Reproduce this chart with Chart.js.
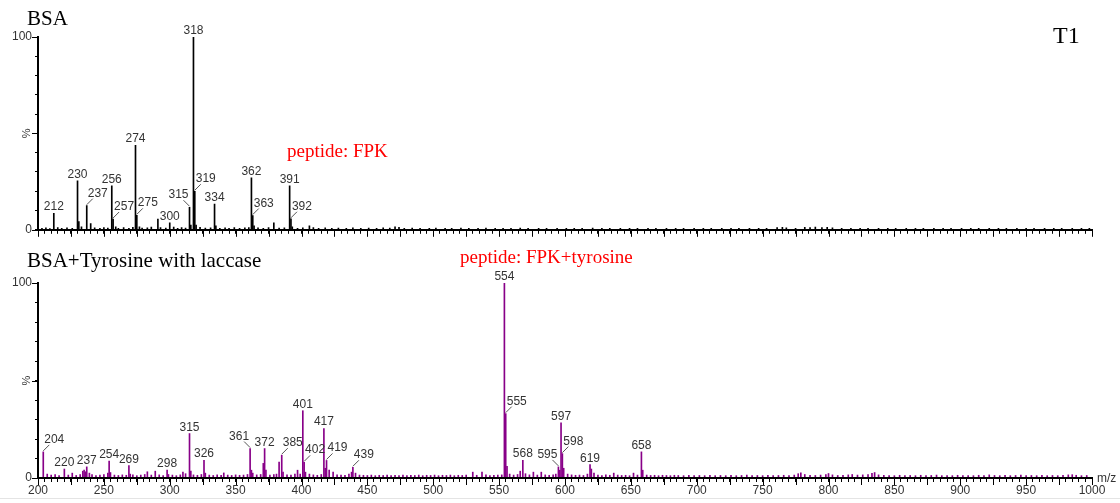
<!DOCTYPE html>
<html>
<head>
<meta charset="utf-8">
<title>BSA / BSA+Tyrosine with laccase</title>
<script src="https://cdn.jsdelivr.net/npm/chart.js@4/dist/chart.umd.min.js"></script>
<style>
  html, body { margin: 0; padding: 0; background: #fff; }
  #wrap { position: relative; width: 1120px; height: 503px; overflow: hidden; }
  canvas { position: absolute; left: 0; }
  #top { top: 0; }
  #bottom { top: 240px; }
</style>
</head>
<body>
<div id="wrap">
  <canvas id="top" width="1120" height="240"></canvas>
  <canvas id="bottom" width="1120" height="263"></canvas>
</div>
<script>
// m/z axis range and the labelled values
const mzRange = [200, 1000];
const xTickLabels = [200, 250, 300, 350, 400, 450, 500, 550, 600, 650, 700, 750, 800, 850, 900, 950, 1000];
const yTickLabels = [0, 100];

// BSA: labelled peaks [m/z, relative intensity %]
const bsaPeaks = [
  [212, 8.6], [230, 25.4], [237, 12.5], [256, 22.8], [257, 5.6], [274, 43.8], [275, 7.5],
  [300, 3.6], [315, 11.7], [318, 100], [319, 20.0], [334, 13.4], [362, 27.0], [363, 7.4],
  [391, 22.8], [392, 5.7]
];
// BSA: minor peaks and baseline
const bsaMinor = [
  [203, 0.8], [206, 1.0], [209, 0.6], [215, 1.2], [218, 0.7], [222, 1.0], [226, 0.8], [231, 4.2],
  [233, 1.5], [240, 3.2], [243, 1.0], [247, 0.8], [250, 1.2], [253, 0.9], [259, 1.5], [261, 0.8],
  [265, 1.1], [269, 0.7], [272, 1.3], [277, 1.6], [279, 0.9], [283, 1.0], [286, 1.4], [291, 5.5],
  [293, 1.2], [297, 0.9], [303, 1.4], [306, 0.8], [309, 1.1], [312, 0.9], [316, 2.5], [320, 2.4],
  [323, 1.3], [327, 0.9], [331, 1.0], [335, 2.0], [338, 0.8], [342, 1.0], [345, 0.7], [349, 1.1],
  [353, 0.8], [357, 1.0], [360, 1.2], [364, 2.0], [367, 1.0], [371, 0.8], [375, 1.2], [379, 3.6],
  [383, 0.9], [387, 1.0], [393, 1.5], [397, 0.8], [401, 1.0], [406, 2.0], [409, 1.1], [413, 0.8],
  [418, 1.0], [423, 0.7], [428, 0.9], [434, 0.8], [439, 1.0], [445, 0.7], [451, 0.9], [457, 0.8],
  [462, 1.0], [467, 0.9], [471, 1.6], [474, 1.3], [478, 0.8], [484, 0.9], [490, 0.7], [497, 0.8],
  [502, 0.9], [509, 0.7], [514, 0.8], [521, 0.9], [527, 0.7], [534, 0.8], [540, 0.9], [547, 0.7],
  [553, 0.8], [559, 0.7], [566, 0.9], [572, 0.7], [580, 0.8], [586, 0.7], [594, 0.8], [601, 0.7],
  [607, 0.8], [613, 0.7], [621, 0.9], [628, 0.7], [634, 0.8], [642, 0.7], [649, 0.8], [655, 0.7],
  [663, 0.8], [669, 0.7], [677, 0.8], [684, 0.7], [690, 0.8], [698, 0.7], [705, 0.8], [711, 0.7],
  [719, 0.8], [726, 0.7], [732, 0.8], [740, 0.7], [747, 0.8], [753, 0.7], [761, 1.2], [765, 1.3],
  [768, 1.0], [775, 0.8], [782, 1.3], [786, 1.2], [790, 1.4], [795, 1.1], [799, 1.3], [803, 1.0],
  [810, 0.8], [817, 0.7], [824, 0.8], [830, 0.7], [838, 0.8], [845, 0.7], [851, 0.8], [859, 0.7],
  [866, 0.8], [872, 0.7], [880, 0.8], [887, 0.7], [893, 0.8], [901, 0.7], [908, 0.8], [914, 0.7],
  [922, 0.8], [929, 0.7], [935, 0.8], [943, 0.7], [950, 0.8], [956, 0.7], [964, 0.8], [971, 0.7],
  [977, 0.8], [985, 0.7], [992, 0.8], [998, 0.7]
];
// BSA peak labels: [m/z, leader side (0 = above, 1 = right, -1 = left)]
const bsaLabels = [
  [212, 0], [230, 0], [237, 1], [256, 0], [257, 1], [274, 0], [275, 1], [300, 0],
  [315, -1], [318, 0], [319, 1], [334, 0], [362, 0], [363, 1], [391, 0], [392, 1]
];

// BSA + tyrosine with laccase: labelled peaks
const tyrPeaks = [
  [204, 13.4], [220, 4.6], [237, 5.7], [254, 8.7], [269, 6.4], [298, 4.0], [315, 22.8],
  [326, 9.1], [361, 15.1], [372, 15.1], [385, 11.7], [401, 34.5], [402, 8.0], [417, 25.4],
  [419, 9.0], [439, 5.5], [554, 100], [555, 33.0], [568, 9.1], [595, 5.7], [597, 28.3],
  [598, 12.5], [619, 6.9], [658, 13.4]
];
// BSA + tyrosine with laccase: minor peaks and baseline
const tyrMinor = [
  [207, 2.0], [210, 1.5], [213, 1.8], [216, 1.2], [223, 1.5], [226, 2.5], [229, 1.3], [232, 1.8],
  [234, 3.5], [235, 4.0], [236, 3.2], [239, 2.5], [241, 1.8], [244, 1.2], [247, 1.5], [250, 1.8],
  [253, 2.5], [255, 2.8], [258, 1.5], [261, 1.3], [264, 1.6], [267, 1.4], [270, 2.0], [272, 1.6],
  [275, 1.2], [278, 1.5], [281, 1.8], [283, 3.2], [286, 1.5], [289, 3.5], [292, 1.6], [295, 1.3],
  [299, 1.8], [302, 1.5], [305, 1.2], [308, 1.6], [310, 3.0], [312, 2.2], [316, 3.5], [318, 1.6],
  [321, 1.4], [324, 1.8], [327, 2.5], [330, 1.5], [333, 1.3], [336, 1.6], [339, 1.4], [341, 2.6],
  [344, 1.5], [347, 1.3], [350, 1.6], [353, 1.4], [356, 1.5], [359, 1.8], [362, 4.0], [363, 2.5],
  [366, 1.6], [369, 1.8], [371, 7.5], [373, 4.0], [376, 1.5], [379, 1.8], [381, 2.0], [383, 8.2],
  [386, 3.0], [389, 1.6], [392, 1.5], [395, 2.0], [397, 4.0], [399, 2.0], [403, 3.0], [406, 2.0],
  [409, 1.6], [412, 1.4], [415, 1.8], [418, 5.0], [421, 4.0], [424, 3.0], [427, 1.6], [430, 1.5],
  [433, 1.4], [436, 2.0], [438, 3.0], [441, 2.5], [444, 1.5], [447, 1.4], [450, 1.3], [453, 1.5],
  [456, 1.2], [459, 1.4], [462, 1.3], [465, 1.5], [468, 1.2], [471, 1.4], [474, 1.3], [477, 1.5],
  [480, 1.2], [483, 1.4], [486, 1.3], [489, 1.5], [492, 1.2], [495, 1.4], [498, 1.3], [501, 1.5],
  [504, 1.2], [507, 1.4], [510, 1.3], [513, 1.5], [516, 1.2], [519, 1.4], [522, 1.3], [525, 1.5],
  [530, 3.0], [533, 1.4], [537, 3.0], [540, 1.6], [543, 1.3], [546, 1.4], [549, 1.5], [552, 1.6],
  [556, 6.0], [558, 2.0], [561, 1.5], [564, 1.8], [566, 3.5], [570, 2.2], [573, 1.6], [576, 3.0],
  [579, 1.5], [582, 3.0], [585, 1.6], [588, 1.4], [591, 1.6], [593, 2.0], [596, 4.0], [599, 5.0],
  [602, 2.0], [605, 1.6], [608, 1.4], [611, 1.5], [614, 1.3], [617, 2.0], [620, 4.6], [622, 2.5],
  [625, 1.5], [628, 1.3], [631, 1.6], [634, 1.4], [637, 2.5], [640, 1.5], [643, 1.3], [646, 1.4],
  [649, 1.2], [652, 2.5], [655, 1.5], [659, 4.0], [662, 1.5], [665, 1.3], [668, 1.4], [671, 1.2],
  [674, 1.4], [677, 1.3], [680, 1.2], [683, 1.4], [686, 1.3], [690, 1.2], [694, 1.4], [698, 1.2],
  [702, 1.3], [706, 1.2], [710, 1.4], [714, 1.2], [718, 1.3], [722, 1.2], [726, 1.4], [730, 1.2],
  [734, 1.3], [738, 1.5], [742, 1.2], [746, 1.3], [750, 1.2], [754, 1.4], [758, 1.2], [762, 1.3],
  [766, 1.4], [770, 1.3], [774, 1.5], [777, 2.2], [779, 2.6], [782, 1.8], [786, 1.4], [790, 1.3],
  [794, 1.5], [798, 1.8], [800, 2.3], [803, 1.6], [807, 1.3], [811, 1.4], [815, 1.6], [818, 1.8],
  [822, 1.5], [826, 1.6], [830, 1.8], [833, 2.4], [835, 2.8], [838, 1.6], [842, 1.4], [846, 1.3],
  [850, 1.2], [854, 1.4], [858, 1.2], [862, 1.3], [866, 1.2], [870, 1.4], [874, 1.2], [878, 1.3],
  [882, 1.5], [886, 1.2], [890, 1.3], [894, 1.2], [898, 1.4], [902, 1.2], [906, 1.3], [910, 1.2],
  [914, 1.4], [918, 1.2], [922, 1.6], [926, 1.3], [930, 1.2], [934, 1.4], [938, 1.2], [942, 1.3],
  [946, 1.5], [950, 1.2], [954, 1.3], [958, 1.2], [962, 1.4], [966, 1.2], [970, 1.3], [974, 1.2],
  [978, 1.4], [982, 1.6], [985, 1.7], [988, 1.4], [992, 1.2], [996, 1.3]
];
const tyrLabels = [
  [204, 1], [220, 0], [237, 0], [254, 0], [269, 0], [298, 0], [315, 0], [326, 0],
  [361, -1], [372, 0], [385, 1], [401, 0], [402, 1], [417, 0], [419, 1], [439, 1],
  [554, 0], [555, 1], [568, 0], [595, -1], [597, 0], [598, 1], [619, 0], [658, 0]
];

const SANS = "Arial, 'Liberation Sans', sans-serif";
const SERIF = "'Times New Roman', 'Liberation Serif', serif";

function toPoints(list) {
  return list.map(([x, y]) => ({ x, y }));
}

// Draws the long axis ticks, peak annotations and panel headings
function annotations(cfg) {
  return {
    id: 'annotations',
    afterDraw(chart) {
      const { ctx, chartArea, scales: { x, y } } = chart;
      ctx.save();
      ctx.strokeStyle = '#000';
      ctx.lineWidth = 1;
      // longer ticks every 25 m/z
      for (let v = mzRange[0]; v <= mzRange[1]; v += 25) {
        const px = Math.round(x.getPixelForValue(v)) + 0.5;
        ctx.beginPath();
        ctx.moveTo(px, chartArea.bottom);
        ctx.lineTo(px, chartArea.bottom + 7);
        ctx.stroke();
      }
      // longer ticks at 0, 50, 100 %
      [0, 50, 100].forEach(v => {
        const py = Math.round(y.getPixelForValue(v)) + 0.5;
        ctx.beginPath();
        ctx.moveTo(chartArea.left - 6, py);
        ctx.lineTo(chartArea.left, py);
        ctx.stroke();
      });
      // rotated % unit
      ctx.fillStyle = '#333';
      ctx.font = '11px ' + SANS;
      ctx.textAlign = 'center';
      ctx.textBaseline = 'middle';
      ctx.save();
      ctx.translate(chartArea.left - 11, y.getPixelForValue(50));
      ctx.rotate(-Math.PI / 2);
      ctx.fillText('%', 0, 0);
      ctx.restore();

      // peak labels
      ctx.font = '12px ' + SANS;
      ctx.textBaseline = 'alphabetic';
      ctx.strokeStyle = '#555';
      cfg.labels.forEach(([mz, side]) => {
        const peak = cfg.peaks.find(p => p[0] === mz);
        const px = x.getPixelForValue(mz);
        const py = y.getPixelForValue(peak[1]);
        if (side === 0) {
          ctx.fillText(String(mz), px, py - 3);
        } else {
          ctx.beginPath();
          ctx.moveTo(px, py - 1);
          ctx.lineTo(px + side * 6, py - 7);
          ctx.stroke();
          ctx.fillText(String(mz), px + side * 11, py - 9);
        }
      });

      if (cfg.unit) {
        ctx.textAlign = 'left';
        ctx.textBaseline = 'middle';
        ctx.fillText(cfg.unit, chartArea.right + 5, chartArea.bottom + 1);
      }

      // headings
      ctx.textAlign = 'left';
      ctx.textBaseline = 'alphabetic';
      cfg.texts.forEach(t => {
        ctx.font = t.size + 'px ' + SERIF;
        ctx.fillStyle = t.color;
        ctx.fillText(t.text, t.x, t.y);
      });

      if (cfg.rule) {
        ctx.strokeStyle = '#e4e4e4';
        ctx.beginPath();
        ctx.moveTo(0, cfg.rule + 0.5);
        ctx.lineTo(chart.width, cfg.rule + 0.5);
        ctx.stroke();
      }
      ctx.restore();
    }
  };
}

function makeChart(canvasId, peaks, minor, color, opts) {
  return new Chart(document.getElementById(canvasId), {
    type: 'bar',
    data: {
      datasets: [
        { data: toPoints(minor), backgroundColor: color, barThickness: 1, grouped: false },
        { data: toPoints(peaks), backgroundColor: color, barThickness: 1, grouped: false }
      ]
    },
    options: {
      responsive: false,
      animation: false,
      devicePixelRatio: 1,
      layout: { padding: { top: opts.top, right: 28, left: 0, bottom: 0 } },
      plugins: { legend: { display: false }, tooltip: { enabled: false } },
      scales: {
        x: {
          type: 'linear',
          min: mzRange[0],
          max: mzRange[1],
          offset: false,
          afterFit: s => { s.height = opts.xHeight; },
          grid: { offset: false, drawOnChartArea: false, tickLength: 4, tickColor: '#000', tickWidth: 1 },
          border: { display: true, color: '#000', width: 2, z: 1 },
          ticks: {
            stepSize: 5,
            autoSkip: false,
            maxRotation: 0,
            padding: 1,
            color: '#333',
            font: { family: SANS, size: 12 },
            callback: v => (opts.showX && xTickLabels.includes(v)) ? String(v) : ''
          }
        },
        y: {
          min: 0,
          max: 100,
          afterFit: s => { s.width = 38; },
          grid: { drawOnChartArea: false, tickLength: 3, tickColor: '#000', tickWidth: 1 },
          border: { display: true, color: '#000', width: 2, z: 1 },
          ticks: {
            stepSize: 10,
            autoSkip: false,
            padding: 3,
            color: '#333',
            font: { family: SANS, size: 12 },
            callback: v => yTickLabels.includes(v) ? String(v) : ''
          }
        }
      }
    },
    plugins: [annotations(opts)]
  });
}

makeChart('top', bsaPeaks, bsaMinor, '#000000', {
  top: 37, xHeight: 9, showX: false,
  peaks: bsaPeaks, labels: bsaLabels,
  texts: [
    { text: 'BSA', x: 27, y: 25, size: 21, color: '#000' },
    { text: 'T1', x: 1053, y: 43, size: 24, color: '#000' },
    { text: 'peptide: FPK', x: 287, y: 157, size: 19, color: '#ff0000' }
  ]
});

makeChart('bottom', tyrPeaks, tyrMinor, '#880088', {
  top: 43, xHeight: 25, showX: true,
  peaks: tyrPeaks, labels: tyrLabels, unit: 'm/z', rule: 258,
  texts: [
    { text: 'BSA+Tyrosine with laccase', x: 27, y: 27, size: 21, color: '#000' },
    { text: 'peptide: FPK+tyrosine', x: 460, y: 23, size: 19, color: '#ff0000' }
  ]
});
</script>
</body>
</html>
